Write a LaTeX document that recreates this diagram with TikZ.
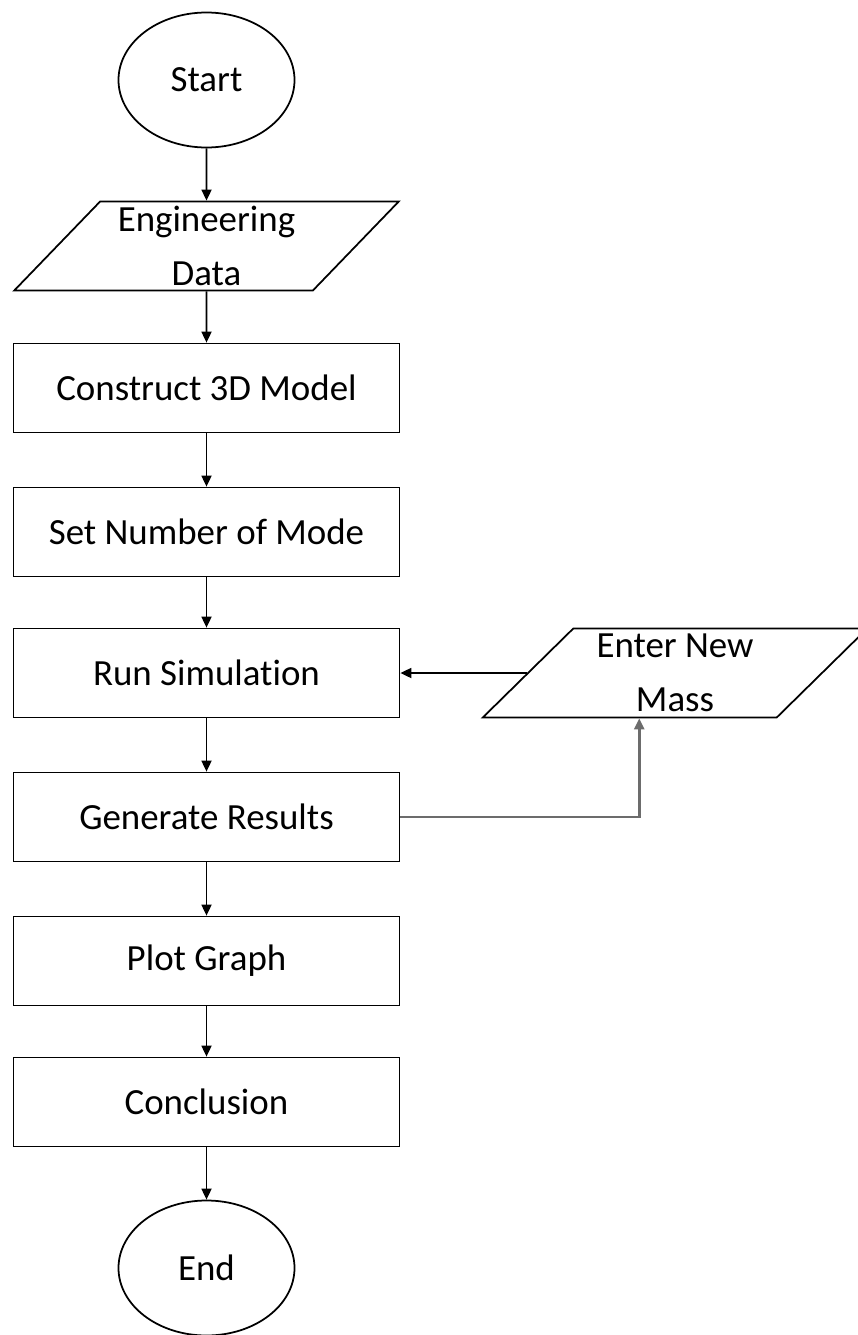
\documentclass[tikz,border=0pt]{standalone}
\usepackage{fontspec}
\setmainfont{Carlito}[Ligatures=NoCommon]
\usepackage{tikz}
\usetikzlibrary{positioning, arrows.meta, calc, shapes.geometric}

\begin{document}
\begin{tikzpicture}[
  font=\fontsize{21}{31}\selectfont,
  box/.style={draw, line width=1pt, align=center, inner sep=2pt},
  process/.style={box, minimum width=7.72cm, minimum height=1.78cm},
  terminal/.style={box, ellipse, minimum width=3.52cm, minimum height=2.7cm},
  io/.style={box, trapezium, trapezium left angle=49.5, trapezium right angle=130.5,
             trapezium stretches=true, minimum width=7.7cm, minimum height=1.78cm},
  arrow/.style={-{Triangle[length=2.2mm, width=2mm]}, line width=1pt},
  loopback/.style={arrow, draw=gray!85!black, line width=1.5pt},
]
\useasboundingbox (0,0) rectangle (17.14,-26.7);
\node[terminal] (start) at (4.13, -1.6) {Start};
\node[io] (data) at (4.13, -4.92) {Engineering\\Data};
\node[process] (model) at (4.13, -7.76) {Construct 3D Model};
\node[process] (mode) at (4.13, -10.64) {Set Number of Mode};
\node[process] (run) at (4.13, -13.46) {Run Simulation};
\node[process] (gen) at (4.13, -16.34) {Generate Results};
\node[process] (plot) at (4.13, -19.22) {Plot Graph};
\node[process] (concl) at (4.13, -22.04) {Conclusion};
\node[terminal] (end) at (4.13, -25.36) {End};
\node[io] (mass) at (13.5, -13.46) {Enter New\\Mass};

\coordinate (massin) at ($(mass.bottom left corner)!0.535!(mass.bottom right corner)$);

\draw[arrow] (start) -- (data);
\draw[arrow] (data) -- (model);
\draw[arrow] (model) -- (mode);
\draw[arrow] (mode) -- (run);
\draw[arrow] (run) -- (gen);
\draw[arrow] (gen) -- (plot);
\draw[arrow] (plot) -- (concl);
\draw[arrow] (concl) -- (end);
\draw[arrow] (mass) -- (run.east);
\draw[loopback] (gen.east) -| (massin);
\end{tikzpicture}
\end{document}
